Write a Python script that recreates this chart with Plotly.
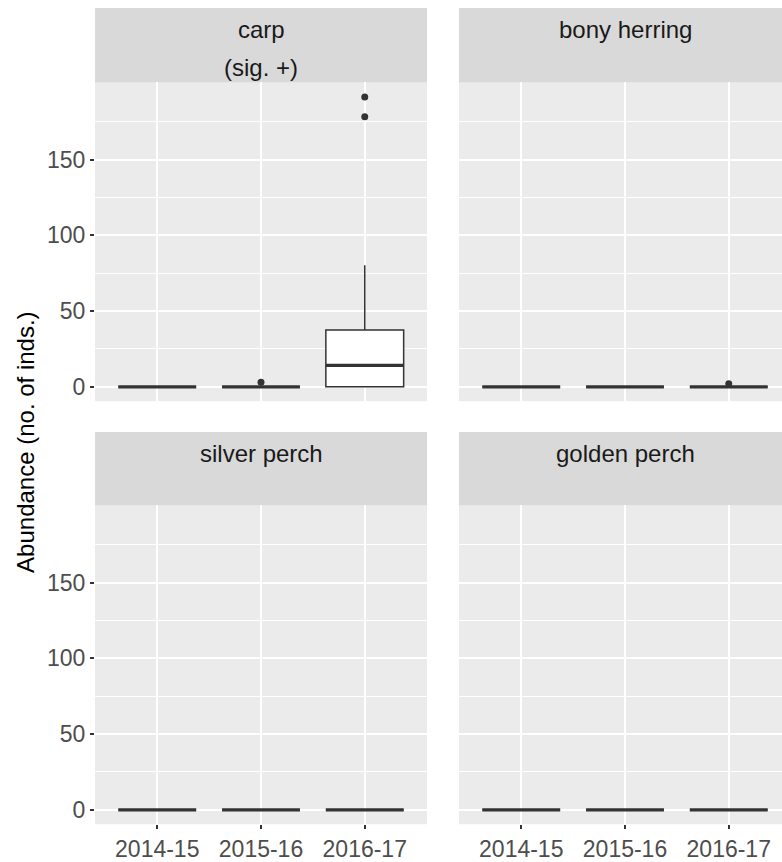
import plotly.graph_objects as go

W, H = 782, 862

seasons = ["2014-15", "2015-16", "2016-17"]
species = ["carp", "bony herring", "silver perch", "golden perch"]
strip_sub = ["(sig. +)", "", "", ""]

# five-number summaries per species, one value per season
q1 = {"carp": [0, 0, 0], "bony herring": [0, 0, 0], "silver perch": [0, 0, 0], "golden perch": [0, 0, 0]}
med = {"carp": [0, 0, 14.2], "bony herring": [0, 0, 0], "silver perch": [0, 0, 0], "golden perch": [0, 0, 0]}
q3 = {"carp": [0, 0, 37.5], "bony herring": [0, 0, 0], "silver perch": [0, 0, 0], "golden perch": [0, 0, 0]}
lo = {"carp": [0, 0, 0], "bony herring": [0, 0, 0], "silver perch": [0, 0, 0], "golden perch": [0, 0, 0]}
hi = {"carp": [0, 0, 80.3], "bony herring": [0, 0, 0], "silver perch": [0, 0, 0], "golden perch": [0, 0, 0]}
# outliers as (season index, value)
outliers = {"carp": [(1, 3), (2, 178.3), (2, 191.4)], "bony herring": [(2, 2)],
            "silver perch": [], "golden perch": []}

y_ticks = [0, 50, 100, 150]
y_minor = [25, 75, 125, 175]

# panel boxes in page pixels: (left, right) and (strip top, plot top, plot bottom)
cols = [(95, 427), (459, 782)]
rows = [(8, 83, 404), (435, 509, 830)]
unit = 332 / 3.2  # px per category unit


def px(x):
    return x / W


def py(y):
    return 1 - y / H


dark = "#333333"
tick_font = dict(size=23, color="#4d4d4d")
fig = go.Figure()
layout = {}
k = 0
for r in range(2):
    for c in range(2):
        sp = species[k]
        k += 1
        ax = "" if k == 1 else str(k)
        xa, ya = "x" + ax, "y" + ax
        x0, x1 = cols[c]
        st, pt, pb = rows[r]
        xr = [0.4, 0.4 + (x1 - x0) / unit]
        layout["xaxis" + ax] = dict(
            domain=[px(x0), px(x1)], anchor=ya, range=xr,
            tickvals=[1, 2, 3], ticktext=seasons, showticklabels=(r == 1),
            ticks="outside" if r == 1 else "", ticklen=4, tickwidth=1.5, tickcolor=dark,
            showgrid=True, gridcolor="white", gridwidth=2, zeroline=False,
            tickfont=tick_font, fixedrange=True)
        layout["yaxis" + ax] = dict(
            domain=[py(pb), py(pt)], anchor=xa, range=[-9.5, 201],
            tickvals=y_ticks, showticklabels=(c == 0),
            ticks="outside" if c == 0 else "", ticklen=4, tickwidth=1.5, tickcolor=dark,
            showgrid=True, gridcolor="white", gridwidth=2, zeroline=False,
            minor=dict(tickvals=y_minor, showgrid=True, gridcolor="white", gridwidth=1, ticks=""),
            tickfont=tick_font, fixedrange=True)
        for i in range(3):
            fig.add_trace(go.Box(
                x=[i + 1], q1=[q1[sp][i]], median=[med[sp][i]], q3=[q3[sp][i]],
                lowerfence=[lo[sp][i]], upperfence=[hi[sp][i]],
                width=0.75, whiskerwidth=0, fillcolor="white",
                line=dict(color=dark, width=1.5), boxpoints=False,
                xaxis=xa, yaxis=ya, showlegend=False))
        mx, my = [], []
        for i in range(3):
            mx += [i + 1 - 0.375, i + 1 + 0.375, None]
            my += [med[sp][i], med[sp][i], None]
        fig.add_trace(go.Scatter(x=mx, y=my, mode="lines", line=dict(color=dark, width=3.2),
                                 xaxis=xa, yaxis=ya, showlegend=False, hoverinfo="skip"))
        if outliers[sp]:
            fig.add_trace(go.Scatter(
                x=[o[0] + 1 for o in outliers[sp]], y=[o[1] for o in outliers[sp]],
                mode="markers", marker=dict(color=dark, size=7),
                xaxis=xa, yaxis=ya, showlegend=False))
        # facet strip
        fig.add_shape(type="rect", xref="paper", yref="paper",
                      x0=px(x0), x1=px(x1), y0=py(pt), y1=py(st),
                      fillcolor="#d9d9d9", line_width=0, layer="below")
        fig.add_annotation(text=sp, xref="paper", yref="paper", x=px(x0 + 166),
                           y=py(st + 22), xanchor="center", yanchor="middle", showarrow=False,
                           font=dict(size=24, color="#1a1a1a"))
        if strip_sub[k - 1]:
            fig.add_annotation(text=strip_sub[k - 1], xref="paper", yref="paper",
                               x=px(x0 + 166), y=py(st + 60), xanchor="center",
                               yanchor="middle", showarrow=False,
                               font=dict(size=24, color="#1a1a1a"))

fig.add_annotation(text="Abundance (no. of inds.)", xref="paper", yref="paper",
                   x=px(26), y=py(445), xanchor="center", yanchor="middle",
                   textangle=-90, showarrow=False, font=dict(size=24, color="black"))

fig.update_layout(**layout)
fig.update_layout(width=W, height=H, margin=dict(l=0, r=0, t=0, b=0),
                  paper_bgcolor="white", plot_bgcolor="#ebebeb",
                  font=dict(family="Liberation Sans, Arial, sans-serif"))

# drop the default body margin so the figure fills the window
fig.write_html("out.html", config={"displayModeBar": False},
               post_script="document.body.style.margin='0';")
